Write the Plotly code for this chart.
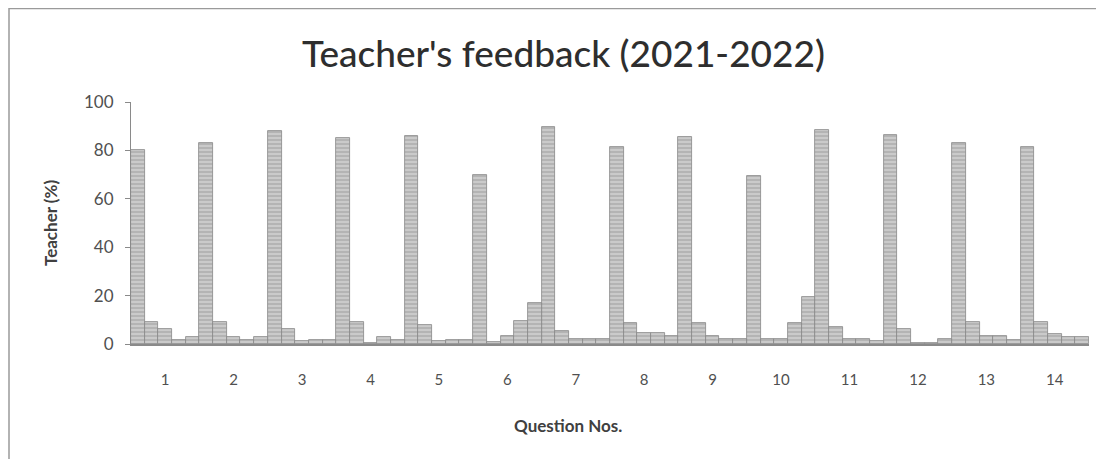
import plotly.graph_objects as go

questions = [str(i) for i in range(1, 15)]
series_names = ["Response A", "Response B", "Response C", "Response D", "Response E"]
s1 = [80, 83, 88, 85, 86, 70, 89.5, 81.5, 85.7, 69.5, 88.3, 86.3, 83.2, 81.3]
s2 = [9, 9, 6, 9, 8, 0.8, 5.4, 8.5, 8.5, 1.9, 7.2, 6.1, 9, 9]
s3 = [6, 2.8, 1.2, 0.5, 1.2, 3.3, 1.9, 4.4, 3.4, 1.9, 1.9, 0.5, 3.4, 4.1]
s4 = [1.5, 1.5, 1.5, 2.8, 1.5, 9.6, 1.9, 4.4, 1.9, 8.5, 1.9, 0.5, 3.4, 2.8]
s5 = [2.8, 2.8, 1.5, 1.5, 1.5, 17, 1.9, 3.4, 1.9, 19.3, 1.2, 1.9, 1.5, 2.8]
all_series = [s1, s2, s3, s4, s5]

OFF = 8  # page body margin
W, H = 1104, 459
L, R, T, B = 131 - OFF, 15 + OFF, 102 - OFF, 115 + OFF
pw, ph = W - L - R, H - T - B

fig = go.Figure()
for name, vals in zip(series_names, all_series):
    fig.add_trace(go.Bar(
        x=questions, y=vals, name=name,
        marker=dict(
            color="#bdbdbd",
            line=dict(color="#858585", width=0.8),
            pattern=dict(shape="-", fgcolor="#939393", bgcolor="#cacaca", size=4, solidity=0.4),
        ),
        showlegend=False,
    ))

def px_x(p):
    return (p - OFF - L) / pw

def px_y(p):
    return (H - B - (p - OFF)) / ph

fig.update_layout(
    width=W, height=H,
    margin=dict(l=L, r=R, t=T, b=B, autoexpand=False),
    paper_bgcolor="white", plot_bgcolor="white",
    barmode="group", bargap=0, bargroupgap=0,
    font=dict(family="Lato", color="#404040"),
    xaxis=dict(
        type="category", range=[-0.5, 13.5],
        showline=True, linecolor="#8a8a8a", linewidth=1.5,
        ticks="outside", ticklen=21, tickcolor="rgba(0,0,0,0)",
        tickfont=dict(size=15, color="#505050"),
        showgrid=False, zeroline=False,
    ),
    yaxis=dict(
        range=[0, 100], dtick=20,
        showline=True, linecolor="#8a8a8a", linewidth=1.2,
        ticks="outside", ticklen=5, tickcolor="#8a8a8a",
        ticklabelstandoff=8,
        tickfont=dict(size=17, color="#505050"),
        showgrid=False, zeroline=False,
    ),
    shapes=[dict(type="rect", xref="paper", yref="paper",
                 x0=px_x(9), x1=1.2, y0=-2, y1=px_y(8.5),
                 line=dict(color="#9a9a9a", width=1.5), fillcolor="rgba(0,0,0,0)", layer="below")],
    annotations=[
        dict(text="Teacher's feedback (2021-2022)", xref="paper", yref="paper",
             x=px_x(563), y=px_y(52), xanchor="center", yanchor="middle",
             showarrow=False, font=dict(size=37, color="#2e2e2e", weight=500)),
        dict(text="Question Nos.", xref="paper", yref="paper",
             x=px_x(568), y=px_y(425), xanchor="center", yanchor="middle",
             showarrow=False, font=dict(size=17, color="#404040", weight="bold")),
        dict(text="Teacher (%)", xref="paper", yref="paper",
             x=px_x(50), y=px_y(223), xanchor="center", yanchor="middle", textangle=-90,
             showarrow=False, font=dict(size=17, color="#404040", weight="bold")),
    ],
)

fig.write_html("out.html")
